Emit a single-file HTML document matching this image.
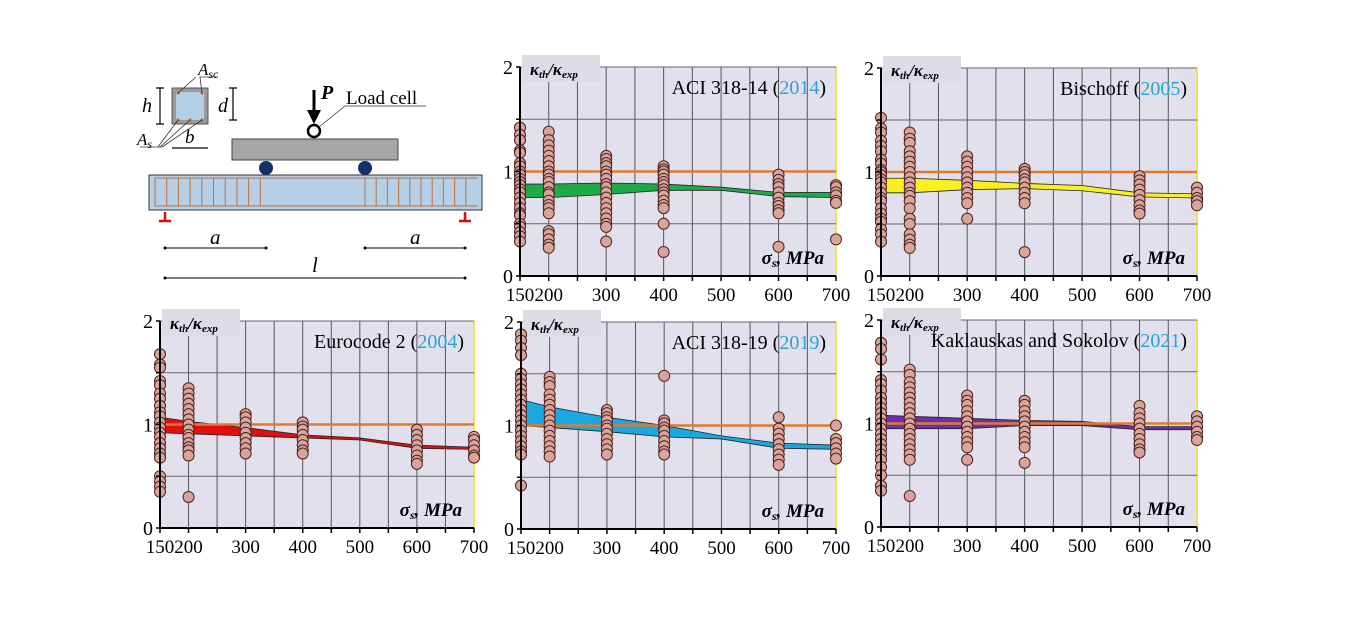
<!DOCTYPE html>
<html><head><meta charset="utf-8"><style>
body{margin:0;background:#fff;}
svg text{font-family:"Liberation Serif",serif;}
</style></head><body>
<svg id="fig" width="1350" height="619" viewBox="0 0 1350 619" xmlns="http://www.w3.org/2000/svg">
<g id="beam">
  <g>
    <rect x="172" y="88" width="36" height="36" fill="#9a9a9a" stroke="#555"/>
    <rect x="176" y="92" width="28" height="28" fill="#b4cfe6"/>
    <circle cx="178" cy="93" r="1.5" fill="#c0602a"/><circle cx="202" cy="93" r="1.5" fill="#c0602a"/>
    <circle cx="178" cy="120" r="1.5" fill="#c0602a"/><circle cx="190" cy="120" r="1.5" fill="#c0602a"/><circle cx="202" cy="120" r="1.5" fill="#c0602a"/>
    <path d="M178 93 L196 77 M202 93 L200 77 L218 77 M178 120 L158 147 M190 120 L160 147 M202 120 L162 147 M140 147 L162 147" stroke="#333" fill="none" stroke-width="0.8"/>
    <path d="M160 88 V124 M156 88 H164 M156 124 H164 M233 88 V120 M229 88 H237 M229 120 H237 M172 148 H208" stroke="#000" stroke-width="1.2"/>
    <text x="198" y="75" font-size="17" font-style="italic">A<tspan font-size="12" dy="3">sc</tspan></text>
    <text x="142" y="112" font-size="20" font-style="italic">h</text>
    <text x="218" y="112" font-size="20" font-style="italic">d</text>
    <text x="185" y="143" font-size="19" font-style="italic">b</text>
    <text x="137" y="145" font-size="17" font-style="italic">A<tspan font-size="12" dy="3">s</tspan></text>
  </g>
  <rect x="232" y="139" width="166" height="21" fill="#a6a6a6" stroke="#444"/>
  <circle cx="266" cy="168" r="7" fill="#13306a"/><circle cx="365" cy="168" r="7" fill="#13306a"/>
  <circle cx="314" cy="131" r="6" fill="#fff" stroke="#000" stroke-width="2.5"/>
  <path d="M314 90 V112" stroke="#000" stroke-width="3"/><path d="M307 110 L321 110 L314 124 Z" fill="#000"/>
  <text x="321" y="99" font-size="20" font-weight="bold" font-style="italic">P</text>
  <path d="M319 127 L345 106 L426 106" stroke="#333" fill="none" stroke-width="0.8"/>
  <text x="346" y="104" font-size="19">Load cell</text>
  <rect x="149" y="175" width="333" height="35" fill="#b4cfe6" stroke="#333"/>
  <g id="stirrups" stroke="#c0703a" stroke-width="1"></g>
  <path d="M155 178 H478 M155 206 H478" stroke="#c0703a" stroke-width="1"/>
  <path d="M165 212 V220 M159 221 H171 M465 212 V220 M459 221 H471" stroke="#d01010" stroke-width="2.5"/>
  <path d="M165 248 H266 M365 248 H465 M165 278 H465" stroke="#000" stroke-width="1"/>
  <circle cx="165" cy="248" r="1.5"/><circle cx="266" cy="248" r="1.5"/><circle cx="365" cy="248" r="1.5"/><circle cx="465" cy="248" r="1.5"/><circle cx="165" cy="278" r="1.5"/><circle cx="465" cy="278" r="1.5"/>
  <text x="210" y="244" font-size="21" font-style="italic">a</text>
  <text x="410" y="244" font-size="21" font-style="italic">a</text>
  <text x="312" y="272" font-size="21" font-style="italic">l</text>
</g>
<g id="charts"></g>
</svg>
<script>
const NS="http://www.w3.org/2000/svg";
const categories=[150,200,300,400,600,700];
const bandX=[150,200,300,400,500,600,700];
const xTicks=[150,200,250,300,350,400,450,500,550,600,650,700];
const xTickLabels=[150,200,300,400,500,600,700];
const yTicks=[0,0.5,1,1.5,2];
const yTickLabels=[0,1,2];

const aci14Upper=[.88,.88,.89,.88,.85,.80,.80];
const aci14Lower=[.75,.75,.78,.82,.82,.76,.75];
const aci14Pts=[[1.42,1.35,1.3,1.2,1.18,1.08,1.05,1.0,.97,.93,.9,.87,.83,.8,.75,.7,.65,.6,.58,.5,.47,.42,.38,.33],
[1.38,1.3,1.25,1.2,1.15,1.1,1.05,1.0,.97,.93,.9,.85,.8,.78,.72,.68,.65,.6,.43,.4,.35,.3,.27],
[1.15,1.12,1.08,1.05,1.0,.97,.93,.88,.85,.8,.75,.7,.65,.6,.55,.5,.47,.33],
[1.05,1.02,1.0,.97,.93,.9,.87,.83,.8,.77,.72,.68,.65,.5,.23],
[.97,.92,.88,.85,.8,.75,.7,.67,.63,.6,.28],
[.87,.85,.8,.77,.72,.7,.35]];

const bisUpper=[.94,.94,.92,.89,.87,.80,.79];
const bisLower=[.80,.80,.83,.84,.82,.76,.75];
const bisPts=[[1.52,1.42,1.38,1.3,1.25,1.2,1.12,1.08,1.02,1.0,.97,.93,.9,.85,.8,.75,.72,.65,.6,.55,.52,.45,.4,.33],
[1.38,1.32,1.28,1.2,1.15,1.1,1.05,1.0,.95,.9,.85,.8,.77,.72,.65,.55,.5,.4,.35,.3,.27],
[1.15,1.1,1.05,1.0,.95,.9,.85,.8,.75,.7,.55],
[1.03,1.0,.97,.93,.9,.85,.8,.75,.7,.23],
[.96,.92,.88,.83,.78,.73,.68,.63,.6],
[.85,.8,.75,.72,.68]];

const ec2Upper=[1.07,1.03,.97,.90,.87,.80,.78];
const ec2Lower=[.92,.91,.89,.87,.85,.77,.76];
const ec2Pts=[[1.68,1.58,1.55,1.42,1.38,1.3,1.25,1.18,1.12,1.08,1.02,.97,.92,.88,.82,.77,.72,.68,.5,.45,.4,.35],
[1.35,1.3,1.25,1.2,1.15,1.1,1.05,1.0,.95,.9,.87,.82,.78,.75,.7,.3],
[1.1,1.07,1.02,.97,.92,.87,.82,.77,.72],
[1.02,.98,.95,.9,.85,.8,.75,.72],
[.95,.9,.85,.8,.75,.7,.65,.62],
[.88,.85,.8,.75,.7,.68]];

const aci19Upper=[1.25,1.18,1.08,1.00,.90,.83,.81];
const aci19Lower=[1.00,.98,.94,.89,.87,.78,.77];
const aci19Pts=[[1.88,1.82,1.75,1.68,1.5,1.45,1.4,1.35,1.3,1.25,1.2,1.15,1.1,1.05,1.0,.95,.9,.85,.8,.75,.72,.42],
[1.47,1.42,1.38,1.3,1.25,1.2,1.15,1.1,1.05,1.0,.95,.9,.85,.8,.75,.7],
[1.15,1.12,1.08,1.05,1.0,.97,.92,.87,.82,.77,.72],
[1.48,1.05,1.02,.98,.95,.9,.85,.8,.75,.72],
[1.08,.97,.92,.87,.82,.77,.72,.67,.62],
[1.0,.87,.83,.78,.73,.68]];

const kakUpper=[1.08,1.07,1.05,1.03,1.02,.97,.97];
const kakLower=[.95,.95,.95,.98,.98,.94,.94];
const kakPts=[[1.78,1.72,1.62,1.42,1.38,1.32,1.25,1.2,1.15,1.1,1.05,1.0,.95,.9,.85,.8,.75,.7,.65,.58,.5,.4,.35],
[1.52,1.47,1.4,1.35,1.3,1.25,1.2,1.15,1.1,1.05,1.0,.95,.9,.85,.8,.75,.7,.65,.3],
[1.27,1.22,1.18,1.12,1.07,1.02,.97,.92,.87,.82,.77,.65],
[1.22,1.18,1.12,1.07,1.02,.97,.92,.87,.82,.77,.62],
[1.17,1.1,1.05,1.0,.95,.9,.85,.8,.75,.72],
[1.07,1.02,.97,.92,.87,.84]];

function mk(tag,attrs,parent){const e=document.createElementNS(NS,tag);for(const k in attrs)e.setAttribute(k,attrs[k]);parent.appendChild(e);return e;}

const st=document.getElementById('stirrups');
for(let i=0;i<10;i++){mk('line',{x1:155+i*11.7,x2:155+i*11.7,y1:178,y2:206},st);}
for(let i=0;i<10;i++){mk('line',{x1:365+i*11.2,x2:365+i*11.2,y1:178,y2:206},st);}

const charts=[
 {name:'aci-318-14',title:'ACI 318-14 (',year:'2014',x0:520,x1:836,y0:276,y2:67,color:'#1faa4a',up:aci14Upper,lo:aci14Lower,pts:aci14Pts},
 {name:'bischoff',title:'Bischoff (',year:'2005',x0:881,x1:1197,y0:276,y2:68,color:'#f8f020',up:bisUpper,lo:bisLower,pts:bisPts},
 {name:'eurocode-2',title:'Eurocode 2 (',year:'2004',x0:160,x1:474,y0:528,y2:321,color:'#e01010',up:ec2Upper,lo:ec2Lower,pts:ec2Pts},
 {name:'aci-318-19',title:'ACI 318-19 (',year:'2019',x0:521,x1:836,y0:529,y2:322,color:'#1aa8e0',up:aci19Upper,lo:aci19Lower,pts:aci19Pts},
 {name:'kaklauskas-sokolov',title:'Kaklauskas and Sokolov (',year:'2021',x0:881,x1:1197,y0:527,y2:320,color:'#6a30a8',up:kakUpper,lo:kakLower,pts:kakPts}
];
const root=document.getElementById('charts');
charts.forEach(c=>{
 const X=v=>c.x0+(v-150)/550*(c.x1-c.x0);
 const Y=v=>c.y0-v/2*(c.y0-c.y2);
 const g=mk('g',{},root);
 
 
 const bg=mk('rect',{x:c.x0,y:c.y2,width:c.x1-c.x0,height:c.y0-c.y2,fill:'#e3e0ee'},g);
 
 
 mk('line',{x1:c.x1,x2:c.x1,y1:c.y2,y2:c.y0,stroke:'#f0e060','stroke-width':2},g);
 xTicks.forEach(t=>{if(t>150&&t<700){mk('line',{x1:X(t),x2:X(t),y1:c.y2,y2:c.y0,stroke:'#555','stroke-width':1},g);}});
 [0.5,1.5,2].forEach(t=>{mk('line',{x1:c.x0,x2:c.x1,y1:Y(t),y2:Y(t),stroke:'#666','stroke-width':1},g);});
 const lb=mk('rect',{x:c.x0+2,y:c.y2-12,width:78,height:27,fill:'#dcdbe6'},g);
 
 
 const yl=mk('text',{x:c.x0+10,y:c.y2+8,'font-size':17,'font-weight':'bold','font-style':'italic'},g);
 
 
 yl.innerHTML='κ<tspan font-size="11" dy="3">th</tspan><tspan dy="-3">/κ</tspan><tspan font-size="11" dy="3">exp</tspan>';
 let d='M'+bandX.map((v,i)=>X(v)+' '+Y(c.up[i])).join(' L')+' L'+bandX.slice().reverse().map((v,i)=>X(v)+' '+Y(c.lo[bandX.length-1-i])).join(' L')+'Z';
 const band=mk('path',{d:d,fill:c.color,stroke:'#222','stroke-width':0.8},g);
 
 
 const ref=mk('line',{x1:c.x0,x2:c.x1,y1:Y(1),y2:Y(1),stroke:'#e07a30','stroke-width':2.5},g);
 
 
 categories.forEach((cx,i)=>{c.pts[i].forEach(v=>{
   const p=mk('circle',{cx:X(cx),cy:Y(v),r:5.5,fill:'#d9a59a',stroke:'#4a2020','stroke-width':1},g);
   
   
 });});
 mk('line',{x1:c.x0,x2:c.x0,y1:c.y2,y2:c.y0,stroke:'#000','stroke-width':2},g);
 mk('line',{x1:c.x0,x2:c.x1,y1:c.y0,y2:c.y0,stroke:'#000','stroke-width':2},g);
 yTicks.forEach(t=>mk('line',{x1:c.x0-4,x2:c.x0,y1:Y(t),y2:Y(t),stroke:'#000','stroke-width':1.5},g));
 xTicks.forEach(t=>mk('line',{x1:X(t),x2:X(t),y1:c.y0,y2:c.y0+5,stroke:'#000','stroke-width':1.5},g));
 yTickLabels.forEach(t=>{const tx=mk('text',{x:c.x0-7,y:Y(t)+7,'font-size':20,'text-anchor':'end'},g);tx.textContent=t;
   
   });
 xTickLabels.forEach(t=>{const tx=mk('text',{x:X(t),y:c.y0+25,'font-size':19,'text-anchor':'middle'},g);tx.textContent=t;
   
   });
 const ti=mk('text',{x:c.x1-10,y:c.y2+27,'font-size':20,'text-anchor':'end'},g);
 
 
 ti.innerHTML=c.title+'<tspan fill="#2aa3d0">'+c.year+'</tspan>)';
 const xl=mk('text',{x:c.x1-12,y:c.y0-12,'font-size':19,'font-weight':'bold','font-style':'italic','text-anchor':'end'},g);
 
 
 xl.innerHTML='σ<tspan font-size="12" dy="3">s</tspan><tspan dy="-3">, MPa</tspan>';
});
</script>
</body></html>
